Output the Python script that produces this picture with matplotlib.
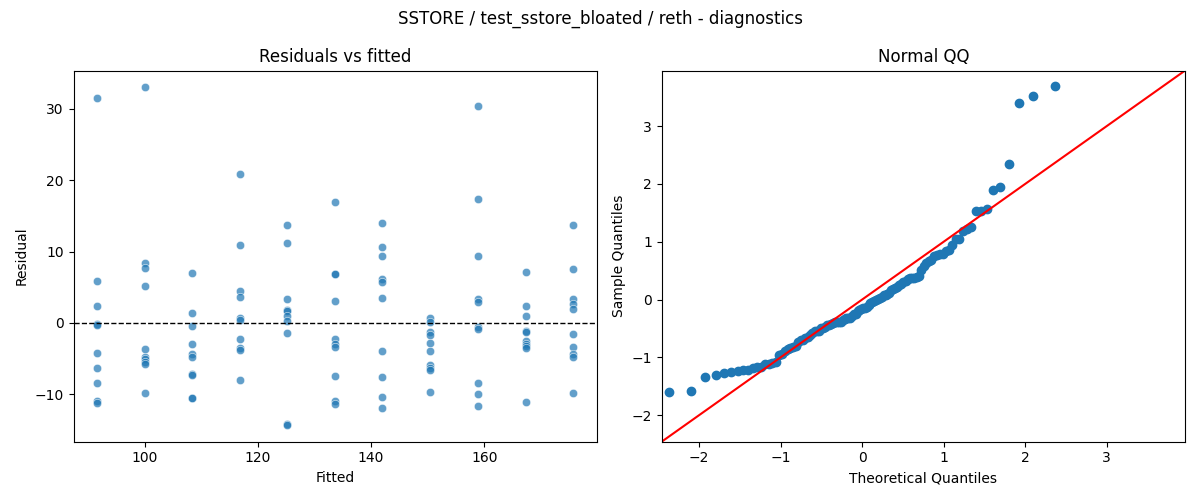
import numpy as np
import matplotlib
matplotlib.use("Agg")
import matplotlib.pyplot as plt
import seaborn as sns
from statistics import NormalDist

# fitted value of each group (x positions)
fitted_levels = [91.6, 100.0, 108.4, 116.8, 125.2, 133.6, 142.0, 150.4, 158.9, 167.3, 175.7]

# residuals for each fitted level
resid_groups = [
    [31.5, 5.9, 2.3, -0.1, -0.3, -4.2, -6.3, -8.5, -10.9, -11.2],
    [33.0, 8.45, 7.7, 5.2, -3.6, -4.8, -5.1, -5.5, -5.8, -9.9],
    [7.0, 1.4, -0.4, -2.9, -4.4, -4.8, -7.2, -7.3, -10.5, -10.6],
    [20.9, 10.9, 4.5, 3.6, 0.65, 0.45, -2.3, -3.5, -3.8, -8.0],
    [13.7, 11.2, 3.4, 1.8, 1.6, 0.9, 0.3, -1.4, -14.2, -14.3],
    [16.9, 6.9, 6.8, 3.1, -2.2, -3.0, -3.4, -7.5, -10.9, -11.4],
    [14.0, 10.6, 9.4, 6.1, 5.7, 3.5, -4.0, -7.6, -10.4, -11.9],
    [0.75, 0.1, -1.26, -1.77, -2.8, -4.0, -5.9, -6.3, -6.6, -9.7],
    [30.4, 17.4, 9.4, 3.4, 2.9, -0.6, -0.8, -8.4, -10.0, -11.6],
    [7.1, 2.4, 1.0, -1.1, -1.3, -2.5, -2.9, -3.2, -3.5, -11.1],
    [13.7, 7.5, 3.3, 2.7, 2.0, -1.6, -3.4, -4.4, -4.8, -9.8],
]

# shared limits of the qq panel (45 degree reference line spans them)
qq_limits = (-2.46, 3.96)

fitted = np.concatenate([[f] * len(g) for f, g in zip(fitted_levels, resid_groups)])
resid = np.concatenate(resid_groups)

# qq data: standardized residuals against normal plotting positions i/(n+1)
std_resid = np.sort((resid - resid.mean()) / resid.std())
n = len(std_resid)
theo = np.array([NormalDist().inv_cdf(i / (n + 1)) for i in range(1, n + 1)])

fig, axes = plt.subplots(1, 2, figsize=(12, 5), dpi=100)

ax = axes[0]
sns.scatterplot(x=fitted, y=resid, alpha=0.7, ax=ax)
ax.axhline(0, color="black", linestyle="--", linewidth=1)
ax.set_xlabel("Fitted")
ax.set_ylabel("Residual")
ax.set_title("Residuals vs fitted")

ax = axes[1]
ax.plot(theo, std_resid, "o", color="C0")
ax.plot(qq_limits, qq_limits, color="red")
ax.set_xlim(qq_limits)
ax.set_ylim(qq_limits)
ax.set_xlabel("Theoretical Quantiles")
ax.set_ylabel("Sample Quantiles")
ax.set_title("Normal QQ")

fig.suptitle("SSTORE / test_sstore_bloated / reth - diagnostics")
fig.tight_layout()
fig.savefig("out.png")
